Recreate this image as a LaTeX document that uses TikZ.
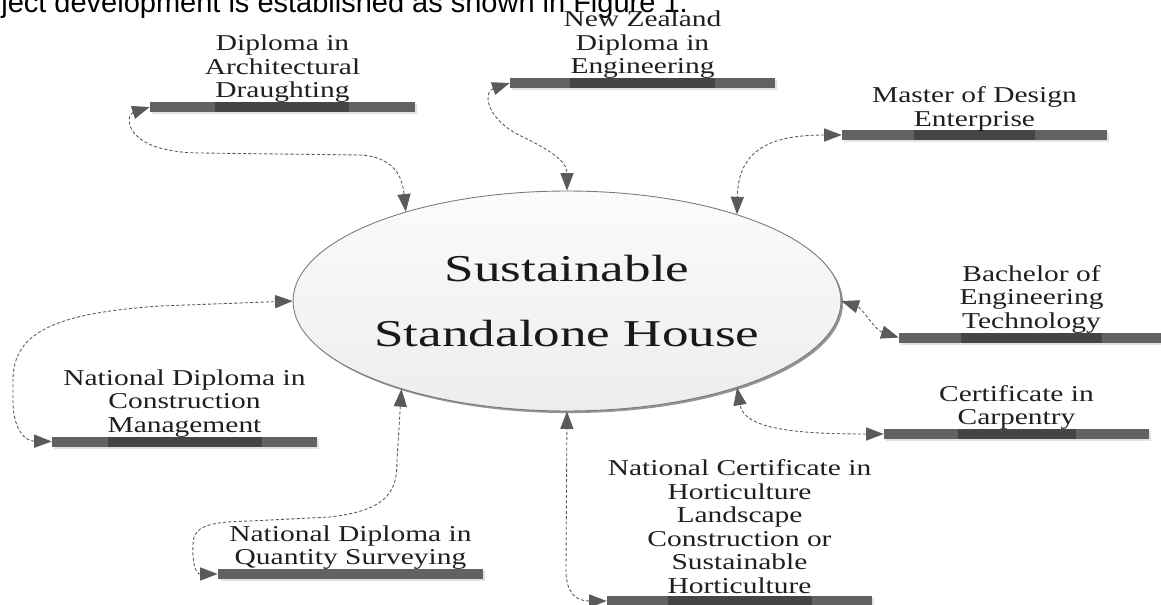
\documentclass[tikz,border=0pt]{standalone}
\usepackage{fontspec}
\setmainfont{Liberation Serif}
\newfontfamily\widefont[FakeStretch=1.3]{Liberation Serif}
\newfontfamily\housefont[FakeStretch=1.4]{Liberation Serif}
\newfontfamily\pagefont{Liberation Sans}
\usetikzlibrary{shapes.geometric,arrows.meta,shadows}

\definecolor{barlight}{HTML}{626264}
\definecolor{bardark}{HTML}{454547}
\definecolor{linkgray}{HTML}{5A5A5A}
\definecolor{rimgray}{HTML}{7A7A7A}

\tikzset{
  house/.style={ellipse, draw=rimgray, line width=0.5pt,
    top color=gray!3, bottom color=gray!14,
    minimum width=10.96cm, minimum height=4.4cm, inner sep=0pt,
    align=center, text=black!90,
    font=\housefont\fontsize{21.6}{37}\selectfont,
    drop shadow={shadow xshift=1.2pt, shadow yshift=-1.2pt, fill=black!70, opacity=0.6}},
  progbar/.style={fill=barlight, minimum width=5.3cm, minimum height=0.2cm, inner sep=0pt,
    drop shadow={shadow xshift=1.3pt, shadow yshift=-1.3pt, fill=gray!22, opacity=1}},
  progtext/.style={align=center, inner sep=0pt, text=black!88,
    font=\widefont\fontsize{12.9}{13.4}\selectfont},
  link/.style={color=linkgray, line width=0.5pt, dash pattern=on 1.8pt off 1.2pt,
    {Triangle[length=10pt,width=7.5pt]}-{Triangle[length=10pt,width=7.5pt]}}
}

\begin{document}
\begin{tikzpicture}[x=0.02cm,y=-0.02cm]

% Frame
\useasboundingbox
(0,0)
rectangle
(1161,605);

% Page text
\node[anchor=base west, inner sep=0pt, font=\pagefont\fontsize{16.5}{19}\selectfont]
(intro)
at (1,12)
{ject development is established as shown in Figure 1.};

% House
\node[house]
(house)
at (567,301)
{Sustainable\\Standalone House};

% Architectural Draughting
\node[progbar]
(archbar)
at (282.5,107)
{};
\fill[bardark]
(215,102)
rectangle
(349,112);
\node[progtext, above=-0.9pt]
(archtext)
at (archbar.north)
{Diploma in\\Architectural\\Draughting};

% Engineering
\node[progbar]
(nzbar)
at (642.5,83)
{};
\fill[bardark]
(570,78)
rectangle
(715,88);
\node[progtext, above=-0.9pt]
(nztext)
at (nzbar.north)
{New Zealand\\Diploma in\\Engineering};

% Design Enterprise
\node[progbar]
(masterbar)
at (974.5,135)
{};
\fill[bardark]
(914,130)
rectangle
(1035,140);
\node[progtext, above=-0.9pt]
(mastertext)
at (masterbar.north)
{Master of Design\\Enterprise};

% Engineering Technology
\node[progbar]
(bachelorbar)
at (1031.5,337.5)
{};
\fill[bardark]
(961,332.5)
rectangle
(1102,342.5);
\node[progtext, above=-0.9pt]
(bachelortext)
at (bachelorbar.north)
{Bachelor of\\Engineering\\Technology};

% Carpentry
\node[progbar]
(carpbar)
at (1016.5,434)
{};
\fill[bardark]
(958,429)
rectangle
(1076,439);
\node[progtext, above=-0.9pt]
(carptext)
at (carpbar.north)
{Certificate in\\Carpentry};

% Horticulture
\node[progbar]
(hortbar)
at (739.5,601)
{};
\fill[bardark]
(668,596)
rectangle
(812,606);
\node[progtext, above=1pt]
(horttext)
at (hortbar.north)
{National Certificate in\\Horticulture\\Landscape\\Construction or\\Sustainable\\Horticulture};

% Quantity Surveying
\node[progbar]
(qsbar)
at (350.5,574)
{};
\node[progtext, above=-0.9pt]
(qstext)
at (qsbar.north)
{National Diploma in\\Quantity Surveying};

% Construction Management
\node[progbar]
(cmbar)
at (184.5,441.5)
{};
\fill[bardark]
(108,436.5)
rectangle
(262,446.5);
\node[progtext, above=-0.9pt]
(cmtext)
at (cmbar.north)
{National Diploma in\\Construction\\Management};

% Links
\draw[link]
(archbar.west)
.. controls (125,115) and (122,152) .. (200,153)
-- (360,155)
.. controls (400,157) and (403,185) .. (house.151.5);

\draw[link]
(nzbar.west)
.. controls (483,92) and (485,120) .. (525,138)
.. controls (560,155) and (567,165) .. (house.north);

\draw[link]
(masterbar.west)
.. controls (770,135) and (738,150) .. (house.27.5);

\draw[link]
(bachelorbar.west)
.. controls (875,330) and (862,308) .. (house.0);

\draw[link]
(carpbar.west)
.. controls (790,434) and (744,428) .. (house.-27.6);

\draw[link]
(hortbar.west)
.. controls (575,601) and (566,592) .. (566,570)
-- (house.south);

\draw[link]
(qsbar.west)
.. controls (195,574) and (192,560) .. (193,545)
.. controls (193,525) and (210,522) .. (250,521)
-- (330,517)
.. controls (390,510) and (397,490) .. (397,460)
-- (house.208);

\draw[link]
(cmbar.west)
.. controls (25,441) and (13,430) .. (13,400)
-- (13,380)
.. controls (13,330) and (60,313) .. (160,306)
-- (house.west);

\end{tikzpicture}
\end{document}
